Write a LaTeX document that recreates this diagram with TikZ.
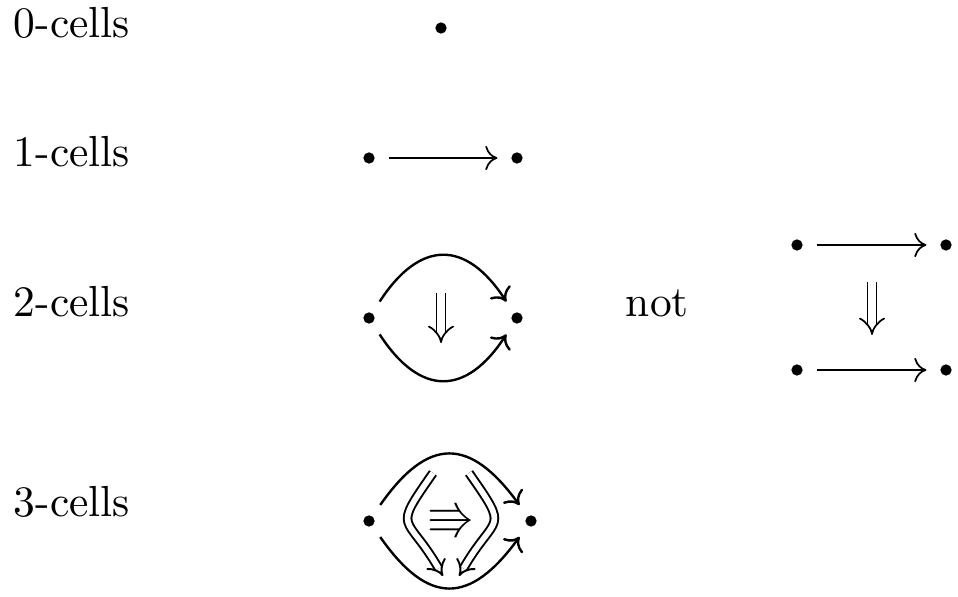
\documentclass[tikz,border=0pt]{standalone}
\usepackage{amssymb}
\usetikzlibrary{arrows.meta}
\begin{document}
\begin{tikzpicture}[x=0.23pt,y=0.23pt,
  dot/.style={circle,fill=black,inner sep=0pt,minimum size=2.6pt,outer sep=3.2pt},
  lbl/.style={anchor=base west,inner sep=0pt},
  onecell/.style={line width=0.4pt,-{Computer Modern Rightarrow[length=2.8pt,width=5.6pt]}},
  arcarrow/.style={line width=0.55pt,-{Computer Modern Rightarrow[length=2.8pt,width=5.6pt]}},
  twocell/.style={double,double distance=1.7pt,line width=0.4pt,-{Implies}},
  twocellb/.style={double,double distance=1.3pt,line width=0.45pt,-{Implies}},
]
\useasboundingbox (0,0) rectangle (958,-597);

% labels
\node[lbl] (l0) at (13,-38) {0-cells};
\node[lbl] (l1) at (13,-167) {1-cells};
\node[lbl] (l2) at (13,-317) {2-cells};
\node[lbl] (l3) at (13,-517) {3-cells};
\node[lbl] (nt) at (625,-317) {not};

% 0-cell
\node[dot] (z) at (441,-28) {};

% 1-cell
\node[dot] (a1) at (369,-158) {};
\node[dot] (b1) at (517,-158) {};
\draw[onecell] (a1) -- (b1);

% 2-cell
\node[dot] (a2) at (369,-318) {};
\node[dot] (b2) at (517,-318) {};
\draw[arcarrow] (a2) to[out=57,in=123,looseness=1.5] (b2);
\draw[arcarrow] (a2) to[out=-57,in=-123,looseness=1.5] (b2);
\coordinate (t2) at (441,-293);
\coordinate (h2) at (441,-343);
\draw[twocell] (t2) -- (h2);

% square (not)
\node[dot] (s1) at (797,-245) {};
\node[dot] (s2) at (946,-245) {};
\node[dot] (s3) at (797,-370) {};
\node[dot] (s4) at (946,-370) {};
\draw[onecell] (s1) -- (s2);
\draw[onecell] (s3) -- (s4);
\coordinate (ts) at (872,-282);
\coordinate (hs) at (872,-335);
\draw[twocell] (ts) -- (hs);

% 3-cell
\node[dot] (a3) at (369,-521) {};
\node[dot] (b3) at (531,-521) {};
\draw[arcarrow] (a3) to[out=55,in=126,looseness=1.55] (b3);
\draw[arcarrow] (a3) to[out=-55,in=-126,looseness=1.55] (b3);
\coordinate (p1) at (433,-473);
\coordinate (q1) at (443,-576);
\coordinate (p2) at (469,-473);
\coordinate (q2) at (459,-576);
\draw[twocellb] (p1) to[out=235,in=120,looseness=1.8] (q1);
\draw[twocellb] (p2) to[out=-55,in=60,looseness=1.8] (q2);
\node[inner sep=0pt] (r) at (451,-521) {\fontsize{11}{12}\selectfont$\Rrightarrow$};
\end{tikzpicture}
\end{document}
